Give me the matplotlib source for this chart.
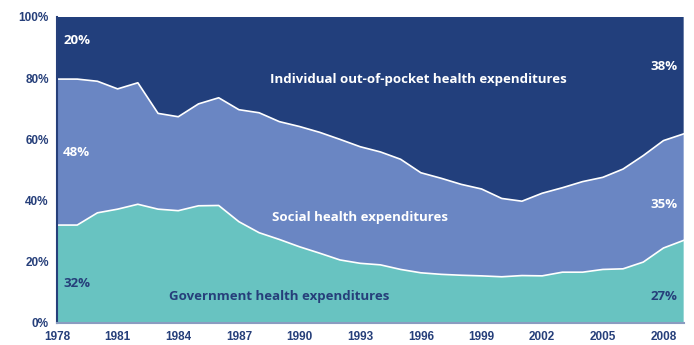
import matplotlib.pyplot as plt
import numpy as np

years = np.arange(1978, 2010)

# shares of total health expenditure, percent
government = [32.0, 32.0, 36.0, 37.2, 38.8, 37.2, 36.7, 38.3, 38.4, 33.1,
              29.5, 27.3, 24.9, 22.8, 20.6, 19.5, 19.0, 17.5, 16.4, 15.9,
              15.6, 15.4, 15.1, 15.5, 15.4, 16.6, 16.6, 17.5, 17.7, 19.9,
              24.5, 27.0]
social = [47.7, 47.7, 43.0, 39.3, 39.7, 31.3, 30.7, 33.3, 35.2, 36.6,
          39.2, 38.5, 39.3, 39.5, 39.4, 38.1, 36.9, 36.0, 32.7, 31.4,
          29.7, 28.4, 25.6, 24.3, 27.0, 27.6, 29.6, 30.1, 32.6, 34.8,
          35.1, 34.8]
individual = [100 - g - s for g, s in zip(government, social)]

navy = "#223f7c"
mid_blue = "#6a86c3"
teal = "#68c3c1"
label_color = "#263f7a"

fig = plt.figure(figsize=(6.94, 3.45), dpi=100)
ax = fig.add_axes([0.0821, 0.0638, 0.903, 0.887])

ax.stackplot(years, government, social, individual,
             colors=[teal, mid_blue, navy], linewidth=0)
lower = np.array(government)
upper = lower + np.array(social)
ax.plot(years, lower, color="white", lw=1.2)
ax.plot(years, upper, color="white", lw=1.2)

ax.set_xlim(1978, 2009)
ax.set_ylim(0, 100)
ax.set_xticks(np.arange(1978, 2010, 3))
ax.set_yticks(np.arange(0, 101, 20))
ax.set_yticklabels([f"{v}%" for v in range(0, 101, 20)])
ax.tick_params(length=0, labelsize=8.5, labelcolor=label_color, pad=6)
for lbl in ax.get_xticklabels() + ax.get_yticklabels():
    lbl.set_fontweight("bold")
    lbl.set_family("Liberation Sans")

for side in ["top", "right"]:
    ax.spines[side].set_visible(False)
ax.spines["left"].set_color(label_color)
ax.spines["left"].set_linewidth(1.5)
ax.spines["bottom"].set_color("#8a9cc0")
ax.spines["bottom"].set_linewidth(1.5)

txt = dict(family="Open Sans", fontweight="bold", fontsize=9.5)
ax.text(1978.3, 92.2, "20%", color="white", va="center", **txt)
ax.text(1978.3, 55.6, "48%", color="white", va="center", **txt)
ax.text(1978.3, 13, "32%", color=label_color, va="center", **txt)
ax.text(2008.7, 83.7, "38%", color="white", va="center", ha="right", **txt)
ax.text(2008.7, 38.6, "35%", color="white", va="center", ha="right", **txt)
ax.text(2008.7, 8.5, "27%", color=label_color, va="center", ha="right", **txt)

ax.text(1995.9, 79.7, "Individual out-of-pocket health expenditures",
        color="white", ha="center", va="center", **txt)
ax.text(1993.0, 34.6, "Social health expenditures",
        color="white", ha="center", va="center", **txt)
ax.text(1989.0, 8.5, "Government health expenditures",
        color=label_color, ha="center", va="center", **txt)

fig.savefig("out.png", dpi=100)
